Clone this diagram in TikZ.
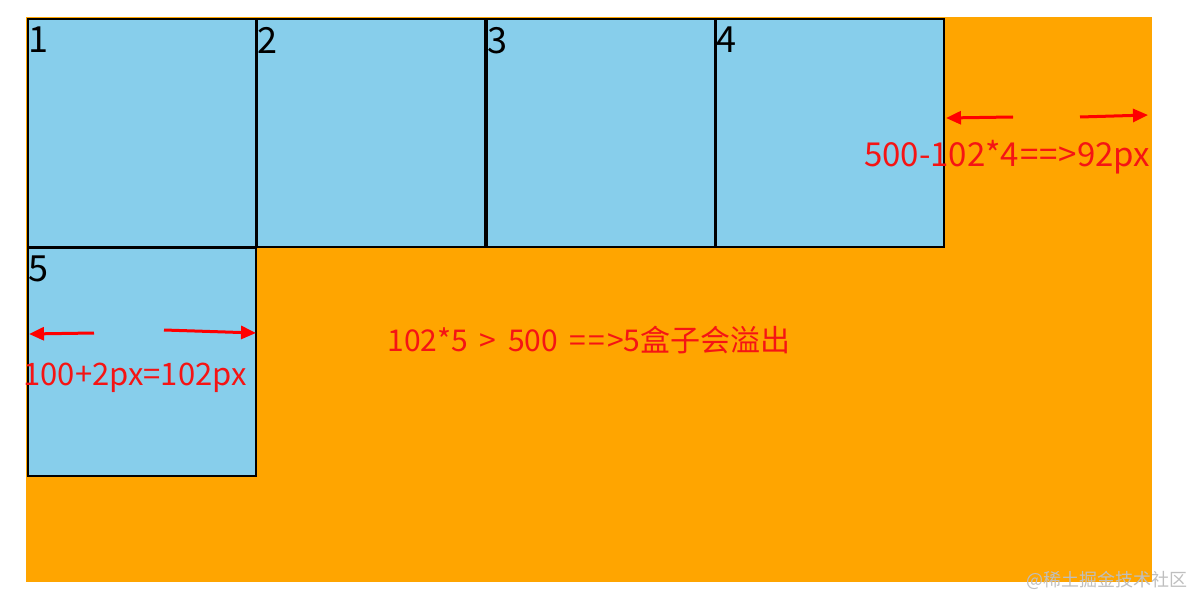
\documentclass[tikz,border=0pt]{standalone}
\usepackage{fontspec}
\setmainfont{Noto Sans CJK SC}
\usetikzlibrary{arrows.meta}
\definecolor{skyb}{RGB}{135,206,235}
\definecolor{orng}{RGB}{255,165,0}
\definecolor{redtxt}{RGB}{245,20,20}
\begin{document}
\begin{tikzpicture}[x=1pt,y=-1pt,
  box/.style={draw=black,line width=1.8pt,fill=skyb,minimum width=228pt,minimum height=228pt,anchor=north west,inner sep=0pt},
  num/.style={anchor=north west,font=\fontsize{36}{36}\selectfont,text=black,inner sep=0pt},
  lbl/.style={text=redtxt,font=\fontsize{33}{33}\selectfont,inner sep=0pt},
  lbls/.style={text=redtxt,font=\fontsize{30}{30}\selectfont,inner sep=0pt},
  arr/.style={draw=red,line width=3pt,-{Triangle[length=15pt,width=13pt]}}]
\useasboundingbox (0,0) rectangle (1194,599);
\fill[orng] (26,17) rectangle (1152,582);
\node[box] (b1) at (27,18) {};
\node[box] (b2) at (256,18) {};
\node[box] (b3) at (486,18) {};
\node[box] (b4) at (715,18) {};
\node[box] (b5) at (27,247) {};
\node[num] (n1) at (28,27) {1};
\node[num] (n2) at (257,27) {2};
\node[num] (n3) at (487,27) {3};
\node[num] (n4) at (716,27) {4};
\node[num] (n5) at (28,256) {5};
\coordinate (a1s) at (1013,117);
\coordinate (a1e) at (946,118);
\coordinate (a2s) at (1080,117);
\coordinate (a2e) at (1148,115);
\draw[arr] (a1s) -- (a1e);
\draw[arr] (a2s) -- (a2e);
\coordinate (a3s) at (94,333);
\coordinate (a3e) at (29,334);
\coordinate (a4s) at (164,330);
\coordinate (a4e) at (256,333);
\draw[arr] (a3s) -- (a3e);
\draw[arr] (a4s) -- (a4e);
\node[lbl] (t1) at (1007,157) {500-102*4{\kern1pt}={\kern1pt}={\kern1pt}>92px};
\node[lbl,font=\fontsize{31}{31}\selectfont] (t2) at (135,378) {100+2px=102px};
\node[lbls] (t3) at (589,340) {102*5 \,>\, 500 \,={\kern2pt}={\kern2pt}>5盒子会溢出};
\node[text=black!25,font=\fontsize{18}{18}\selectfont,inner sep=0pt,anchor=east] (wm) at (1188,580) {@稀土掘金技术社区};
\end{tikzpicture}
\end{document}
